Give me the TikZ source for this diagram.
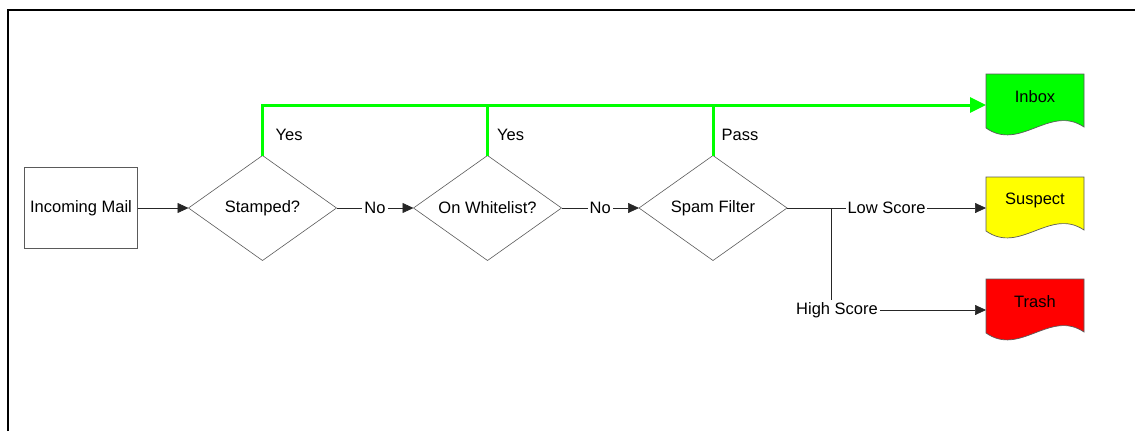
\documentclass[tikz,border=0pt]{standalone}
\usepackage{fontspec}
\setmainfont{Liberation Sans}
\usetikzlibrary{shapes.geometric,arrows.meta,calc,backgrounds}
\definecolor{leaf}{RGB}{0,255,0}
\definecolor{warn}{RGB}{255,255,0}
\definecolor{junk}{RGB}{255,0,0}
\definecolor{edge}{RGB}{90,90,90}

% outline of a "document" symbol around a named node: straight top and sides, wavy bottom
\newcommand\paperoutline[2]{%
  \begin{scope}[on background layer]
    \filldraw[fill=#2, draw=edge, line width=0.7pt]
      (#1.north west) -- (#1.north east) -- ($(#1.north east)+(0,53)$)
      .. controls ($(#1.north east)+(-34,30)$) and ($(#1.north west)+(34,78)$) ..
      ($(#1.north west)+(0,54)$) -- cycle;
  \end{scope}}

\tikzset{
  procbox/.style={draw=edge, line width=0.8pt, minimum width=113pt, minimum height=81pt,
    inner sep=0pt, outer sep=0pt},
  decision/.style={diamond, aspect=1.41, draw=edge, line width=0.6pt,
    minimum width=148pt, minimum height=105pt, inner sep=0pt, outer sep=0pt},
  paper/.style={rectangle, minimum width=98pt, minimum height=46pt, inner sep=0pt, outer sep=0pt},
  flow/.style={draw=black!85, line width=0.7pt, -{Triangle[length=11pt,width=10pt]}},
  yesflow/.style={draw=leaf, line width=3pt},
  lbl/.style={fill=white, inner sep=2pt},
  branchlbl/.style={anchor=west, inner sep=0pt},
}

\begin{document}
\begin{tikzpicture}[x=1pt, y=-1pt, font=\fontsize{16.5}{19}\selectfont]
  \useasboundingbox (0,0) rectangle (1135,431);

  % page frame
  \draw[line width=2pt] (8,431) -- (8,10) -- (1135,10);

  % process steps
  \node[procbox] (mail) at (81,208) {Incoming Mail};
  \node[decision] (stamp) at (262.5,208) {Stamped?};
  \node[decision] (white) at (487.5,208) {On Whitelist?};
  \node[decision] (spam) at (713,208) {Spam Filter};

  % destinations
  \node[paper] (inbox) at (1035,97) {Inbox};
  \node[paper] (suspect) at (1035,200) {Suspect};
  \node[paper] (trash) at (1035,302) {Trash};
  \paperoutline{inbox}{leaf}
  \paperoutline{suspect}{warn}
  \paperoutline{trash}{junk}

  \coordinate (inboxin) at ($(inbox.west)+(0,8)$);
  \coordinate (trashin) at ($(trash.west)+(0,8)$);

  % main flow
  \draw[flow] (mail) -- (stamp);
  \draw[flow] (stamp) -- node[lbl]{No} (white);
  \draw[flow] (white) -- node[lbl]{No} (spam);
  \draw[flow] (spam.east) -- node[lbl]{Low Score} (spam.east -| suspect.west);
  \draw[flow] (spam.east) -- ++(44,0) |- node[lbl, pos=0.5, xshift=6pt]{High Score} (trashin);

  % accepted mail
  \draw[yesflow, -{Triangle[length=16pt,width=15pt]}] (stamp.north) |- (inboxin);
  \draw[yesflow] (white.north) -- (white.north |- inboxin);
  \draw[yesflow] (spam.north) -- (spam.north |- inboxin);

  \node[branchlbl] (yes1) at ($(stamp.north)+(13,-21)$) {Yes};
  \node[branchlbl] (yes2) at ($(white.north)+(9.5,-21)$) {Yes};
  \node[branchlbl] (pass) at ($(spam.north)+(8.5,-21)$) {Pass};
\end{tikzpicture}
\end{document}
